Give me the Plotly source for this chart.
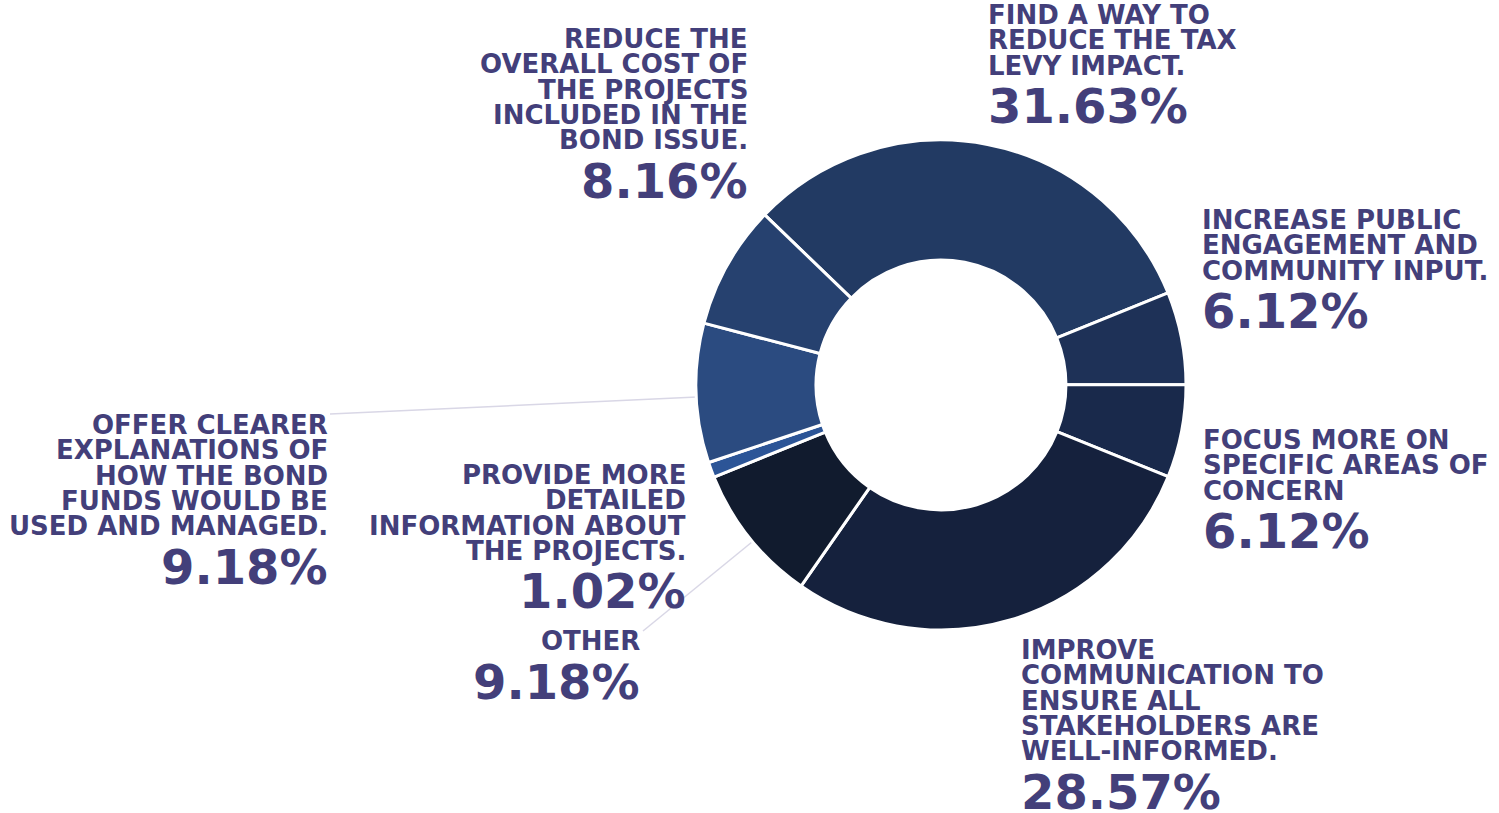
import plotly.graph_objects as go

# ---- data ----
categories = [
    "Find a way to reduce the tax levy impact.",
    "Increase public engagement and community input.",
    "Focus more on specific areas of concern",
    "Improve communication to ensure all stakeholders are well-informed.",
    "Other",
    "Provide more detailed information about the projects.",
    "Offer clearer explanations of how the bond funds would be used and managed.",
    "Reduce the overall cost of the projects included in the bond issue.",
]
values = [31.63, 6.12, 6.12, 28.57, 9.18, 1.02, 9.18, 8.16]
label_lines = [
    ["FIND A WAY TO", "REDUCE THE TAX", "LEVY IMPACT."],
    ["INCREASE PUBLIC", "ENGAGEMENT AND", "COMMUNITY INPUT."],
    ["FOCUS MORE ON", "SPECIFIC AREAS OF", "CONCERN"],
    ["IMPROVE", "COMMUNICATION TO", "ENSURE ALL", "STAKEHOLDERS ARE", "WELL-INFORMED."],
    ["OTHER"],
    ["PROVIDE MORE", "DETAILED", "INFORMATION ABOUT", "THE PROJECTS."],
    ["OFFER CLEARER", "EXPLANATIONS OF", "HOW THE BOND", "FUNDS WOULD BE", "USED AND MANAGED."],
    ["REDUCE THE", "OVERALL COST OF", "THE PROJECTS", "INCLUDED IN THE", "BOND ISSUE."],
]

# ---- styles / layout ----
colors = ["#223a63", "#1e3157", "#19294b", "#15213d", "#111b2e", "#2c5597", "#2b4b80", "#26416f"]
TEXT = "#433f7a"
W, H = 1499, 813
CX, CY, R = 941, 385, 245
FONT = "DejaVu Sans"
LINE_SIZE = 26
PCT_SIZE = 48
LINE_STEP = 25.3
PCT_GAP = 40.5

# label anchor in screen px: (x, y of first line center, anchor side)
label_pos = [
    (987, 15, "left"),
    (1201, 220, "left"),
    (1202, 440, "left"),
    (1020, 650, "left"),
    (641, 641, "right"),
    (687, 475, "right"),
    (329, 425, "right"),
    (749, 39, "right"),
]

fig = go.Figure(go.Pie(
    labels=categories,
    values=values,
    sort=False,
    direction="clockwise",
    rotation=314,
    hole=0.51,
    marker=dict(colors=colors, line=dict(color="white", width=3)),
    textinfo="none",
    hoverinfo="label+percent",
    showlegend=False,
    domain=dict(x=[(CX - R) / W, (CX + R) / W], y=[(H - CY - R) / H, (H - CY + R) / H]),
))


def px_x(x):
    return x / W


def px_y(y):
    return 1 - y / H


annotations = []
for lines, val, (px, py, side) in zip(label_lines, values, label_pos):
    y = py
    for ln in lines:
        annotations.append(dict(
            x=px_x(px), y=px_y(y), xref="paper", yref="paper",
            text=ln, showarrow=False, xanchor=side, yanchor="middle", borderpad=0,
            font=dict(family=FONT, size=LINE_SIZE, color=TEXT, weight="bold"),
        ))
        y += LINE_STEP
    y = y - LINE_STEP + PCT_GAP
    annotations.append(dict(
        x=px_x(px), y=px_y(y), xref="paper", yref="paper",
        text=f"{val:.2f}%", showarrow=False, xanchor=side, yanchor="middle", borderpad=0,
        font=dict(family=FONT, size=PCT_SIZE, color=TEXT, weight="bold"),
    ))

leader = [((330, 414), (697, 397)), ((643, 631), (752, 542))]
shapes = [dict(type="line", xref="paper", yref="paper",
               x0=px_x(a[0]), y0=px_y(a[1]), x1=px_x(b[0]), y1=px_y(b[1]),
               line=dict(color="#d9d7e6", width=1.5), layer="below")
          for a, b in leader]

fig.update_layout(
    width=W, height=H,
    margin=dict(l=0, r=0, t=0, b=0),
    paper_bgcolor="white", plot_bgcolor="white",
    annotations=annotations, shapes=shapes,
)

fig.write_html(
    "out.html",
    config={"displayModeBar": False},
    post_script="document.body.style.margin='0';document.body.style.overflow='hidden';",
)
